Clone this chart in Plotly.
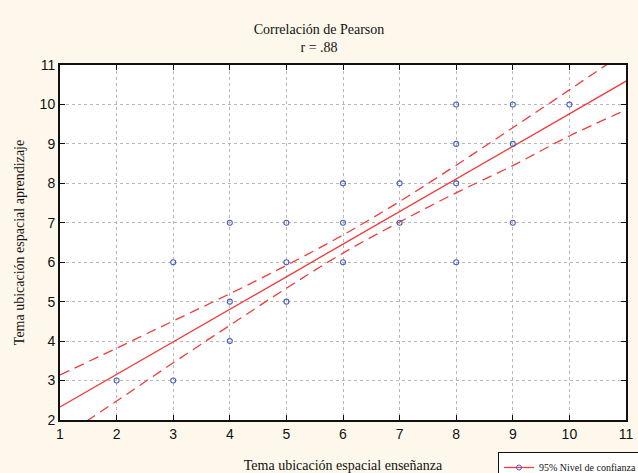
import plotly.graph_objects as go

# Observed pairs (enseñanza, aprendizaje)
ensenanza = [2, 3, 3, 4, 4, 4, 5, 5, 5, 6, 6, 6, 7, 7, 8, 8, 8, 8, 9, 9, 9, 10]
aprendizaje = [3, 3, 6, 4, 5, 7, 5, 6, 7, 6, 7, 8, 7, 8, 6, 8, 9, 10, 7, 9, 10, 10]

# Fitted regression line and 95% confidence band
fit_x = [1, 2, 3, 4, 5, 6, 7, 8, 9, 10, 11]
fit_y = [2.33, 3.15, 3.98, 4.80, 5.63, 6.46, 7.28, 8.11, 8.93, 9.76, 10.59]
ci_upper = [3.14, 3.82, 4.51, 5.20, 5.92, 6.69, 7.54, 8.46, 9.41, 10.37, 11.34]
ci_lower = [1.52, 2.48, 3.45, 4.40, 5.34, 6.23, 7.02, 7.76, 8.45, 9.20, 9.86]

ticks = [1, 2, 3, 4, 5, 6, 7, 8, 9, 10, 11]

RED = "#f03c3c"
BLUE = "#4a5fc1"
SERIF = "Liberation Serif, Times New Roman, serif"
SANS = "Liberation Sans, Arial, sans-serif"

fig = go.Figure()

for band in (ci_upper, ci_lower):
    fig.add_trace(go.Scatter(
        x=fit_x, y=band, mode="lines", line_shape="spline",
        line=dict(color=RED, width=1.3, dash="10px,6px"),
        showlegend=False, hoverinfo="skip",
    ))

fig.add_trace(go.Scatter(
    x=fit_x, y=fit_y, mode="lines",
    line=dict(color=RED, width=1.3), showlegend=False,
))

fig.add_trace(go.Scatter(
    x=ensenanza, y=aprendizaje, mode="markers",
    marker=dict(symbol="circle-open", size=5, color=BLUE, line=dict(width=1.1)),
    showlegend=False,
))

# legend key
fig.add_trace(go.Scatter(
    x=[None], y=[None], mode="lines+markers", name="95% Nivel de confianza",
    line=dict(color=RED, width=1.3),
    marker=dict(symbol="circle-open", size=5, color=BLUE),
))

axis_common = dict(
    tickvals=ticks, ticktext=[str(t) for t in ticks],
    ticks="inside", ticklen=5, tickwidth=1.2, tickcolor="#111",
    showline=True, linecolor="#111", linewidth=2, mirror="allticks",
    showgrid=True, gridcolor="#b8b8b8", gridwidth=1, griddash="dot",
    zeroline=False,
    tickfont=dict(family=SANS, size=14, color="#111"),
)

fig.update_xaxes(
    range=[1, 11], **axis_common,
    title=dict(text="Tema ubicación espacial enseñanza",
               font=dict(family=SERIF, size=14, color="#111"), standoff=36),
)
fig.update_yaxes(
    range=[2, 11], **axis_common,
    title=dict(text="Tema ubicación espacial aprendizaje",
               font=dict(family=SERIF, size=14, color="#111"), standoff=12),
)

fig.update_layout(
    width=638, height=473,
    margin=dict(l=60, r=12, t=65, b=53, autoexpand=False),
    paper_bgcolor="#fdf8eb", plot_bgcolor="white",
    title=dict(text="Correlación de Pearson<br>r = .88",
               x=0.5, xref="container", xanchor="center",
               y=1 - 34 / 473, yref="container", yanchor="top",
               font=dict(family=SERIF, size=14, color="#111")),
    legend=dict(x=498 / 638, y=1 - 452 / 473, xref="container", yref="container",
                xanchor="left", yanchor="top",
                bgcolor="white", bordercolor="#111", borderwidth=1,
                font=dict(family=SERIF, size=10, color="#111"),
                itemwidth=30, tracegroupgap=0),
    showlegend=True,
)

fig.write_html("out.html")
